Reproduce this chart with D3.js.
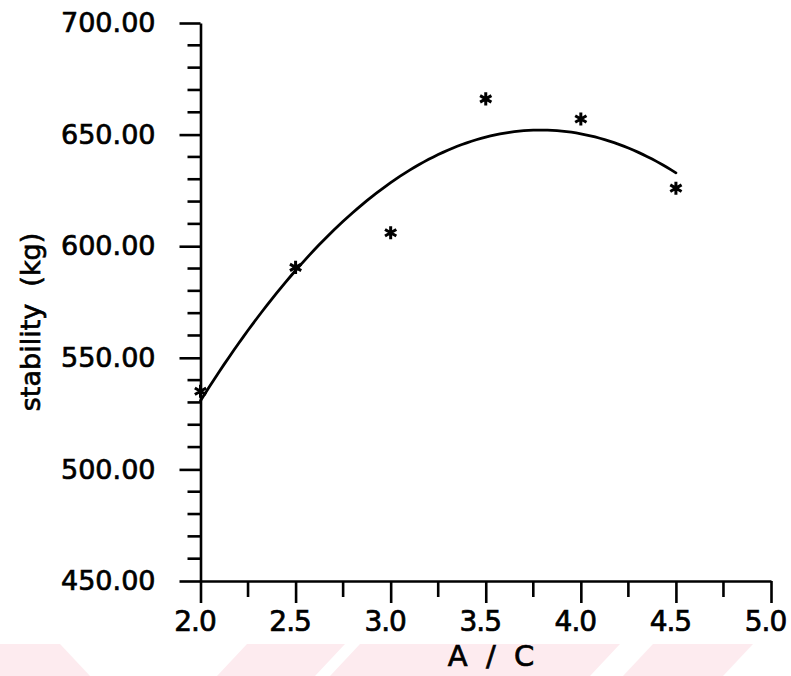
<!DOCTYPE html>
<html>
<head>
<meta charset="utf-8">
<script src="https://cdn.jsdelivr.net/npm/d3@7/dist/d3.min.js"></script>
<style>
  html, body { margin: 0; padding: 0; background: #fff; }
  svg { display: block; }
  text { font-family: "DejaVu Sans", Verdana, sans-serif; fill: #000; stroke: #000; stroke-width: 0.7px; }
</style>
</head>
<body>
<svg id="chart" width="791" height="676"></svg>
<script>
// A/C ratio vs. stability measurements
const acRatio   = [2.0, 2.5, 3.0, 3.5, 4.0, 4.5];
const stability = [535, 590.5, 606, 666, 657, 626];

// axis ticks
const xTicks = [2.0, 2.5, 3.0, 3.5, 4.0, 4.5, 5.0];
const yTicks = [450, 500, 550, 600, 650, 700];

const svg = d3.select("#chart");

// faint background band along the bottom edge
const bandColor = "#fdebef";
const bands = [
  [[0, 644], [60, 644], [90, 676], [0, 676]],
  [[247, 644], [345, 644], [315, 676], [217, 676]],
  [[360, 644], [620, 644], [590, 676], [330, 676]],
  [[653, 644], [753, 644], [723, 676], [623, 676]]
];
svg.append("g").selectAll("polygon").data(bands).join("polygon")
  .attr("points", d => d.map(p => p.join(",")).join(" "))
  .attr("fill", bandColor);

const x = d3.scaleLinear().domain([2.0, 5.0]).range([200.5, 771]);
const y = d3.scaleLinear().domain([450, 700]).range([581, 23]);

const ink = "#000";
const sw = 2.6;

// ---- y axis ----
const yAxis = d3.axisLeft(y)
  .tickValues(yTicks)
  .tickSize(21)
  .tickSizeOuter(0)
  .tickPadding(24)
  .tickFormat(d3.format(".2f"));
const gy = svg.append("g").attr("transform", `translate(${x(2.0)},0)`).call(yAxis);
gy.select(".domain").attr("stroke", ink).attr("stroke-width", sw);
gy.selectAll(".tick line").attr("stroke", ink).attr("stroke-width", sw);
gy.selectAll(".tick text").attr("font-size", 27).attr("font-family", "DejaVu Sans").attr("fill", ink);

// y minor ticks (every 10 kg)
const yMinor = [];
yTicks.slice(0, -1).forEach(t => { for (let k = 1; k < 5; k++) yMinor.push(t + k * 10); });
svg.append("g").selectAll("line").data(yMinor).join("line")
  .attr("x1", x(2.0) - 13).attr("x2", x(2.0))
  .attr("y1", d => y(d)).attr("y2", d => y(d))
  .attr("stroke", ink).attr("stroke-width", sw);

// ---- x axis ----
const xAxis = d3.axisBottom(x)
  .tickValues(xTicks)
  .tickSize(22)
  .tickSizeOuter(0)
  .tickPadding(8)
  .tickFormat(d3.format(".1f"));
const gx = svg.append("g").attr("transform", `translate(0,${y(450)})`).call(xAxis);
gx.select(".domain").attr("stroke", ink).attr("stroke-width", sw);
gx.selectAll(".tick line").attr("stroke", ink).attr("stroke-width", sw);
gx.selectAll(".tick text")
  .attr("font-size", 28).attr("font-family", "DejaVu Sans")
  .attr("letter-spacing", -1).attr("dx", -6).attr("fill", ink);

// x minor ticks (midway between labelled ticks)
const xMinor = xTicks.slice(0, -1).map(t => t + 0.25);
svg.append("g").selectAll("line").data(xMinor).join("line")
  .attr("x1", d => x(d)).attr("x2", d => x(d))
  .attr("y1", y(450)).attr("y2", y(450) + 16)
  .attr("stroke", ink).attr("stroke-width", sw);

// ---- axis titles ----
svg.append("text")
  .attr("transform", `translate(40,322) rotate(-90)`)
  .attr("text-anchor", "middle")
  .attr("font-size", 27)
  .style("white-space", "pre")
  .text("stability  (kg)");

svg.append("text")
  .attr("x", 491).attr("y", 666)
  .attr("text-anchor", "middle")
  .attr("font-size", 29)
  .style("white-space", "pre")
  .text("A  /  C");

// ---- quadratic least-squares trend line ----
function quadFit(xs, ys) {
  const n = xs.length;
  const s = [0, 0, 0, 0, 0], t = [0, 0, 0];
  for (let i = 0; i < n; i++) {
    let p = 1;
    for (let k = 0; k < 5; k++) { s[k] += p; if (k < 3) t[k] += p * ys[i]; p *= xs[i]; }
  }
  // solve [s0 s1 s2; s1 s2 s3; s2 s3 s4] [a b c] = t
  const M = [[s[0], s[1], s[2], t[0]], [s[1], s[2], s[3], t[1]], [s[2], s[3], s[4], t[2]]];
  for (let i = 0; i < 3; i++) {
    for (let j = i + 1; j < 3; j++) {
      const f = M[j][i] / M[i][i];
      for (let k = i; k < 4; k++) M[j][k] -= f * M[i][k];
    }
  }
  const c = [0, 0, 0];
  for (let i = 2; i >= 0; i--) {
    let v = M[i][3];
    for (let k = i + 1; k < 3; k++) v -= M[i][k] * c[k];
    c[i] = v / M[i][i];
  }
  return xv => c[0] + c[1] * xv + c[2] * xv * xv;
}
const fit = quadFit(acRatio, stability);
const xMin = d3.min(acRatio), xMax = d3.max(acRatio);
const fitPts = d3.range(0, 101).map(i => {
  const xv = xMin + (xMax - xMin) * i / 100;
  return [xv, fit(xv)];
});
svg.append("path")
  .datum(fitPts)
  .attr("fill", "none")
  .attr("stroke", ink)
  .attr("stroke-width", 2.8)
  .attr("stroke-linecap", "round")
  .attr("d", d3.line().x(d => x(d[0])).y(d => y(d[1])));

// ---- data points (asterisks) ----
const star = d3.symbol().type(d3.symbolAsterisk).size(120);
svg.append("g").selectAll("path").data(acRatio).join("path")
  .attr("transform", (d, i) => `translate(${x(d)},${y(stability[i])})`)
  .attr("d", star)
  .attr("fill", "none")
  .attr("stroke", ink)
  .attr("stroke-width", 3);
</script>
</body>
</html>
